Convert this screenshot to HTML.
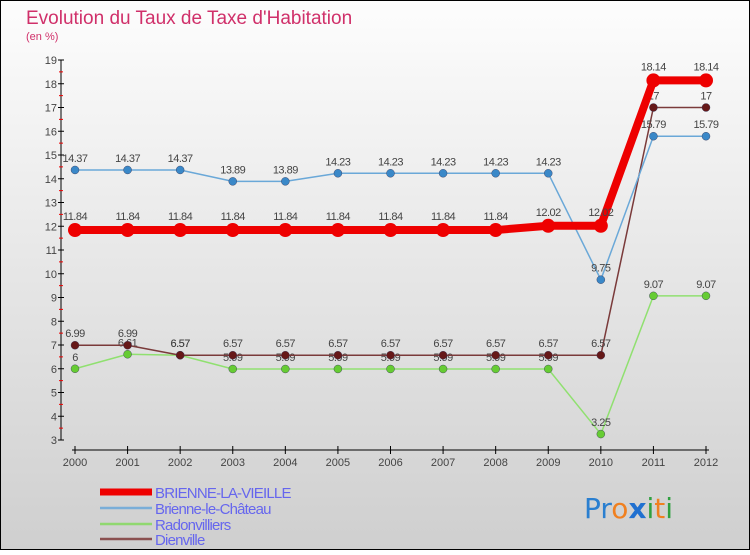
<!DOCTYPE html>
<html><head><meta charset="utf-8"><style>
body{margin:0;width:750px;height:550px;overflow:hidden;font-family:"Liberation Sans",sans-serif}
</style></head><body>
<svg width="750" height="550" xmlns="http://www.w3.org/2000/svg">
<defs><linearGradient id="bg" x1="0" y1="0" x2="0" y2="1"><stop offset="0" stop-color="#fdfdfd"/><stop offset="1" stop-color="#cfcfcf"/></linearGradient></defs>
<rect x="0.5" y="0.5" width="749" height="549" fill="url(#bg)" stroke="#000"/>
<text x="26" y="24" font-size="19" fill="#d0306a">Evolution du Taux de Taxe d'Habitation</text>
<text x="26" y="40" font-size="11" fill="#d0306a">(en %)</text>
<g id="axes"></g>
<g id="series"></g>
<g id="legend"></g>
<text x="584" y="518" font-size="28" font-family="'DejaVu Sans',sans-serif"><tspan fill="#2a7fd0">Pr</tspan><tspan fill="#f08020">o</tspan><tspan fill="#2070d0" font-weight="bold">x</tspan><tspan fill="#30a040">i</tspan><tspan fill="#f08020">t</tspan><tspan fill="#30a040">i</tspan></text>
</svg>
<script>
const years=["2000","2001","2002","2003","2004","2005","2006","2007","2008","2009","2010","2011","2012"];
const yTicks=[3,4,5,6,7,8,9,10,11,12,13,14,15,16,17,18,19];
const brienneVieille=[11.84,11.84,11.84,11.84,11.84,11.84,11.84,11.84,11.84,12.02,12.02,18.14,18.14];
const brienneChateau=[14.37,14.37,14.37,13.89,13.89,14.23,14.23,14.23,14.23,14.23,9.75,15.79,15.79];
const radonvilliers=[6,6.61,6.57,5.99,5.99,5.99,5.99,5.99,5.99,5.99,3.25,9.07,9.07];
const dienville=[6.99,6.99,6.57,6.57,6.57,6.57,6.57,6.57,6.57,6.57,6.57,17,17];
const seriesNames=["BRIENNE-LA-VIEILLE","Brienne-le-Château","Radonvilliers","Dienville"];
const NS="http://www.w3.org/2000/svg";
const x=i=>75+i*(706-75)/(years.length-1);
const y=v=>440-(v-3)*(380/16);
function mk(tag,attrs,parent,txt){const e=document.createElementNS(NS,tag);for(const k in attrs)e.setAttribute(k,attrs[k]);if(txt!==undefined)e.textContent=txt;parent.appendChild(e);return e;}
const ax=document.getElementById('axes');
let e=mk('line',{x1:61,y1:60,x2:61,y2:440,stroke:'#000'},ax);


yTicks.forEach(t=>{
 mk('line',{x1:58,y1:y(t),x2:64,y2:y(t),stroke:'#000'},ax);
 if(t<19)mk('line',{x1:59,y1:y(t+0.5),x2:63,y2:y(t+0.5),stroke:'#e00'},ax);
 const l=mk('text',{x:57,y:y(t)+4,'font-size':11,fill:'#444','text-anchor':'end'},ax,t);
 
 
});
e=mk('line',{x1:72,y1:450,x2:709,y2:450,stroke:'#000'},ax);


years.forEach((yr,i)=>{
 mk('line',{x1:x(i),y1:446,x2:x(i),y2:454,stroke:'#000'},ax);
 const l=mk('text',{x:x(i),y:466,'font-size':11,fill:'#444','text-anchor':'middle'},ax,yr);
 
 
});
const sg=document.getElementById('series');
const defs=[[radonvilliers,'#90e070','#66cc33',1.5,4],[dienville,'#7a3a3a','#661818',1.5,4],[brienneChateau,'#6aa8d8','#3a88c8',1.5,4],[brienneVieille,'#ee0000','#ee0000',8,7]];
const names=['radonvilliers','dienville','brienne-le-chateau','brienne-la-vieille'];
defs.forEach((d,k)=>{
 const g=mk('g',{},sg);
 
 
 const p=mk('polyline',{points:d[0].map((v,i)=>x(i)+','+y(v)).join(' '),fill:'none',stroke:d[1],'stroke-width':d[3],'stroke-linejoin':'round'},g);
 
 
 d[0].forEach((v,i)=>{
  const c=mk('circle',{cx:x(i),cy:y(v),r:d[4],fill:d[2],stroke:k==3?'none':'#335',"stroke-width":0.4},g);
  
  
  const t=mk('text',{x:x(i),y:y(v)-(k==3?10:8),'font-size':11,fill:'#444','text-anchor':'middle','letter-spacing':'-0.5'},g,String(v));
  
  
 });
});
const lg=document.getElementById('legend');
const lcol=['#ee0000','#7aaed8','#90d870','#8a5050'],lw=[7,2.5,2.5,2.5],ly=[492,508,524,539];
seriesNames.forEach((n,i)=>{
 const g=mk('g',{},lg);
 
 
 mk('line',{x1:100,y1:ly[i],x2:152,y2:ly[i],stroke:lcol[i],'stroke-width':lw[i]},g);
 mk('text',{x:155,y:ly[i]+6,'font-size':15,fill:'#6666ee','letter-spacing':'-0.8'},g,n);
});
</script>
</body></html>
